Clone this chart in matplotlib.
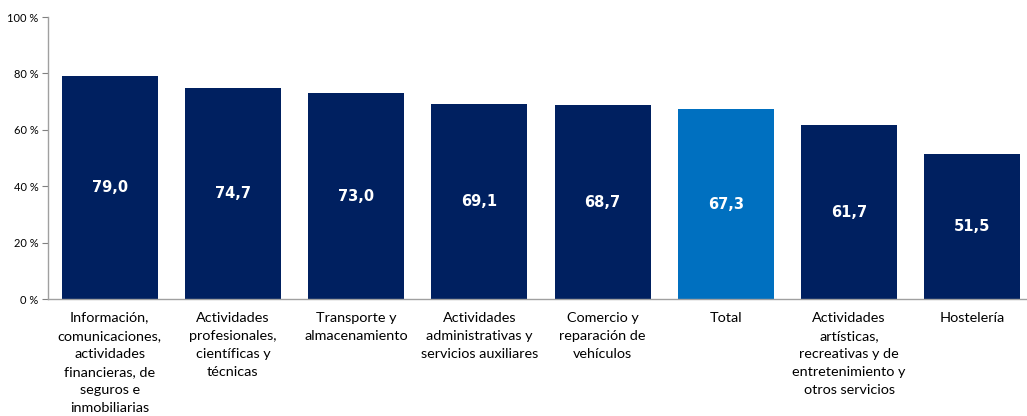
import matplotlib.pyplot as plt
import numpy as np

sectores = [
    "Información,\ncomunicaciones,\nactividades\nfinancieras, de\nseguros e\ninmobiliarias",
    "Actividades\nprofesionales,\ncientíficas y\ntécnicas",
    "Transporte y\nalmacenamiento",
    "Actividades\nadministrativas y\nservicios auxiliares",
    "Comercio y\nreparación de\nvehículos",
    "Total",
    "Actividades\nartísticas,\nrecreativas y de\nentretenimiento y\notros servicios",
    "Hostelería",
]
porcentajes = [79.0, 74.7, 73.0, 69.1, 68.7, 67.3, 61.7, 51.5]
y_ticks = [0, 20, 40, 60, 80, 100]

navy = "#002060"
azul = "#0070C0"
colores = [azul if s == "Total" else navy for s in sectores]

fig = plt.figure(figsize=(10.27, 4.16), dpi=100)
ax = fig.add_axes([48 / 1027, 1 - 299 / 416, 986 / 1027, 282 / 416])

x = np.arange(len(sectores))
bars = ax.bar(x, porcentajes, width=0.78, color=colores, zorder=2)

for b, v in zip(bars, porcentajes):
    ax.text(b.get_x() + b.get_width() / 2, v / 2, f"{v:.1f}".replace(".", ","),
            ha="center", va="center", color="white", fontsize=10.5,
            fontweight="bold", family="DejaVu Sans")

ax.set_xlim(-0.5, len(sectores) - 0.5)
ax.set_ylim(0, 100)
ax.set_yticks(y_ticks)
ax.set_yticklabels([f"{t} %" for t in y_ticks], family="Lato", fontsize=8)
ax.set_xticks(x)
ax.set_xticklabels(sectores, family="Lato", fontsize=10.4, linespacing=1.62)
ax.tick_params(axis="x", length=0, pad=9)
ax.tick_params(axis="y", length=4, width=0.8, color="#808080", pad=3)

for side in ["top", "right"]:
    ax.spines[side].set_visible(False)
for side in ["left", "bottom"]:
    ax.spines[side].set_color("#A0A0A0")
    ax.spines[side].set_linewidth(1)

for lbl in ax.get_xticklabels():
    lbl.set_verticalalignment("top")

fig.savefig("out.png", dpi=100)
